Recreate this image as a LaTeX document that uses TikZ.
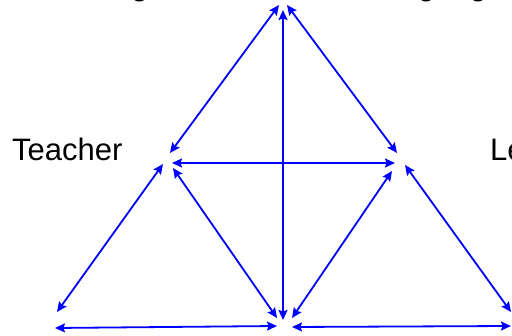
\documentclass[tikz,border=0pt]{standalone}
\usepackage{fontspec}
\setmainfont{Liberation Sans}
\usetikzlibrary{arrows.meta}
\tikzset{
  link/.style={draw={rgb,255:red,0;green,0;blue,255}, line width=1.8pt,
    {Stealth[length=10pt,width=9pt,inset=1.5pt]}-{Stealth[length=10pt,width=9pt,inset=1.5pt]}},
  lbl/.style={anchor=base west, inner sep=0pt, font=\fontsize{31}{36}\selectfont}
}
\begin{document}
\begin{tikzpicture}[x=1pt,y=-1pt]
\useasboundingbox (0,0) rectangle (512,336);
% labels
\node[lbl] (teacher) at (12,161) {Teacher};
\node[lbl] (learner) at (490,161) {Learner};
\node[lbl] (topl) at (12,-4) {Knowledge};
\node[lbl] (topr) at (366,-4) {Language};
% endpoints
\coordinate (a1) at (279,5);   \coordinate (l1) at (170,153);
\coordinate (a2) at (287,5);   \coordinate (r1) at (397,153);
\coordinate (a3) at (283,10);  \coordinate (m1) at (283,320);
\coordinate (l2) at (172,163); \coordinate (r2) at (395,163);
\coordinate (l3) at (163,164); \coordinate (bl1) at (57,312);
\coordinate (l4) at (173,168); \coordinate (m2) at (277,318);
\coordinate (r3) at (392,171); \coordinate (m3) at (292,318);
\coordinate (r4) at (405,165); \coordinate (br1) at (511,312);
\coordinate (bl2) at (55,328); \coordinate (m4) at (277,326);
\coordinate (m5) at (292,327); \coordinate (br2) at (511,326);
% connectors
\draw[link] (a1) -- (l1);
\draw[link] (a2) -- (r1);
\draw[link] (a3) -- (m1);
\draw[link] (l2) -- (r2);
\draw[link] (l3) -- (bl1);
\draw[link] (l4) -- (m2);
\draw[link] (r3) -- (m3);
\draw[link] (r4) -- (br1);
\draw[link] (bl2) -- (m4);
\draw[link] (m5) -- (br2);
\end{tikzpicture}
\end{document}
